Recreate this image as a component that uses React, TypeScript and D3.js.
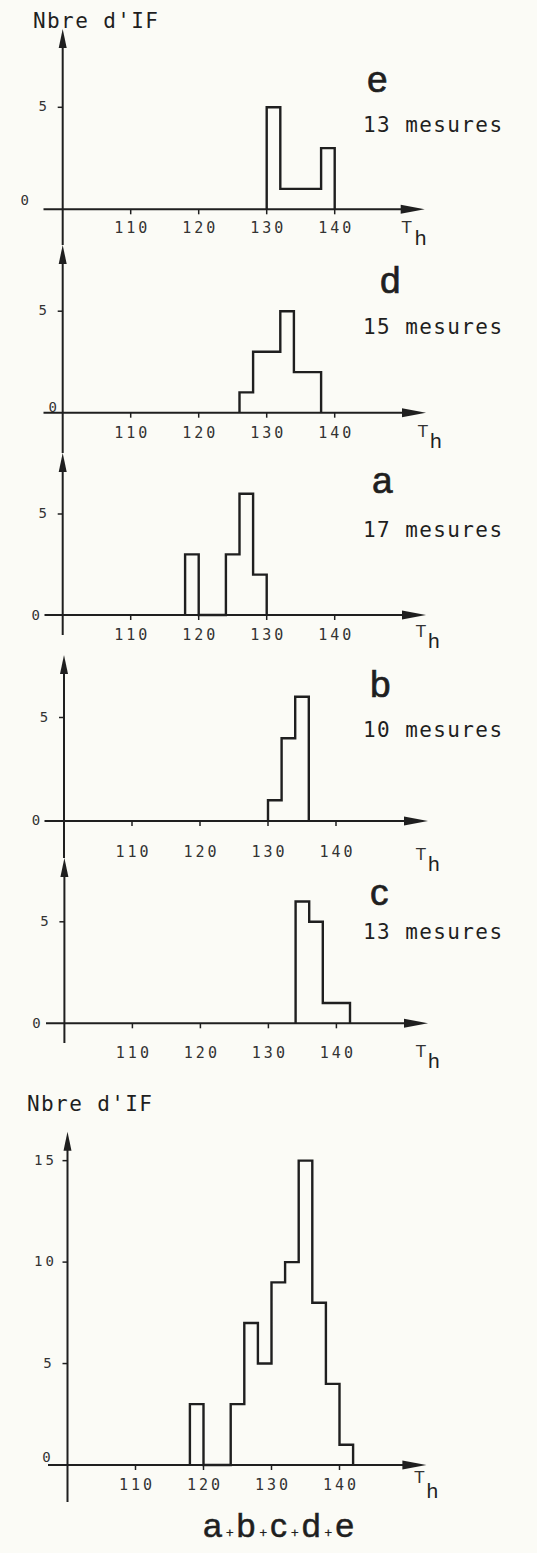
import React from 'react';
import * as d3 from 'd3';

// ---------- data ----------
const BIN_WIDTH = 2;
const xTickValues = [110, 120, 130, 140];

const eBinStarts = [130, 132, 134, 136, 138];
const eCounts = [5, 1, 1, 1, 3];

const dBinStarts = [126, 128, 130, 132, 134, 136];
const dCounts = [1, 3, 3, 5, 2, 2];

const aBinStarts = [118, 120, 122, 124, 126, 128];
const aCounts = [3, 0, 0, 3, 6, 2];

const bBinStarts = [130, 132, 134];
const bCounts = [1, 4, 6];

const cBinStarts = [134, 136, 138, 140];
const cCounts = [6, 5, 1, 1];

const totalBinStarts = [118, 120, 122, 124, 126, 128, 130, 132, 134, 136, 138, 140];
const totalCounts = [3, 0, 0, 3, 7, 5, 9, 10, 15, 8, 4, 1];

const panelLetters = ['e', 'd', 'a', 'b', 'c'];
const measureCounts = [13, 15, 17, 10, 13];
const panelYTicks = [5];
const totalYTicks = [5, 10, 15];
const yAxisTitle = "Nbre d'IF";
const xAxisTitleMain = 'T';
const xAxisTitleSub = 'h';
const sumLetters = ['a', 'b', 'c', 'd', 'e'];

// ---------- layout ----------
const INK = '#1f1f1f';
const MONO = '"DejaVu Sans Mono", "Liberation Mono", monospace';
const SANS = '"Liberation Sans", Arial, sans-serif';

type Layout = {
  ox: number; axisY: number; unit: number; arrowTop: number; axisBottom: number;
  left: number; tip: number; tickDy: number;
  zeroDx: number; zeroDy: number;
  tDx: number; tDy: number; hDx: number; hDy: number;
  letter?: { x: number; y: number }; measure?: { x: number; y: number };
  title?: { x: number; y: number };
};

const layouts: Layout[] = [
  { ox: 62.7, axisY: 209.3, unit: 20.4, arrowTop: 29, axisBottom: 245, left: 43.5, tip: 424.7, tickDy: 24,
    zeroDx: -38, zeroDy: -4, tDx: -23, tDy: 24, hDx: -10, hDy: 36,
    letter: { x: 367, y: 92 }, measure: { x: 363, y: 132 }, title: { x: 33, y: 28 } },
  { ox: 62.7, axisY: 412.7, unit: 20.3, arrowTop: 245, axisBottom: 453, left: 43.5, tip: 426, tickDy: 25,
    zeroDx: -10, zeroDy: -1, tDx: -8, tDy: 24, hDx: 4, hDy: 35,
    letter: { x: 380, y: 293 }, measure: { x: 363, y: 334 } },
  { ox: 62.7, axisY: 615, unit: 20.2, arrowTop: 453, axisBottom: 635, left: 44.5, tip: 426, tickDy: 25,
    zeroDx: -27, zeroDy: 5, tDx: -10, tDy: 22, hDx: 2, hDy: 33,
    letter: { x: 372, y: 493 }, measure: { x: 363, y: 537 } },
  { ox: 64, axisY: 821, unit: 20.7, arrowTop: 655, axisBottom: 858, left: 44.5, tip: 428, tickDy: 36,
    zeroDx: -28, zeroDy: 4, tDx: -12, tDy: 39, hDx: 0, hDy: 50,
    letter: { x: 370, y: 697 }, measure: { x: 363, y: 737 } },
  { ox: 64.4, axisY: 1023.3, unit: 20.3, arrowTop: 858, axisBottom: 1043, left: 46, tip: 428, tickDy: 35,
    zeroDx: -28, zeroDy: 5, tDx: -12, tDy: 34, hDx: 0, hDy: 45,
    letter: { x: 370, y: 905 }, measure: { x: 363, y: 939 } },
];

const totalLayout: Layout = {
  ox: 67.5, axisY: 1465, unit: 20.29, arrowTop: 1131.7, axisBottom: 1502, left: 48, tip: 426.4, tickDy: 25,
  zeroDx: -21, zeroDy: -3, tDx: -12, tDy: 18, hDx: 0, hDy: 33,
  title: { x: 27, y: 1111 },
};

const panelData: [number[], number[]][] = [
  [eBinStarts, eCounts],
  [dBinStarts, dCounts],
  [aBinStarts, aCounts],
  [bBinStarts, bCounts],
  [cBinStarts, cCounts],
];

function Panel({ L, starts, counts, yTicks, letter, measures }: {
  L: Layout; starts: number[]; counts: number[]; yTicks: number[]; letter?: string; measures?: number;
}) {
  const x = d3.scaleLinear().domain([100, 140]).range([L.ox, L.ox + 272]);
  const y = d3.scaleLinear().domain([0, 5]).range([L.axisY, L.axisY - 5 * L.unit]);

  const pts: [number, number][] = [[starts[0], 0]];
  starts.forEach((s, i) => {
    pts.push([s, counts[i]]);
    pts.push([s + BIN_WIDTH, counts[i]]);
  });
  pts.push([starts[starts.length - 1] + BIN_WIDTH, 0]);
  const line = d3.line<[number, number]>().x(d => x(d[0])).y(d => y(d[1]));

  const axX = L.ox;
  return (
    <g>
      {/* y axis */}
      <line x1={axX} x2={axX} y1={L.arrowTop + 10} y2={L.axisBottom} stroke={INK} strokeWidth={2} />
      <path d={`M${axX},${L.arrowTop} L${axX - 4},${L.arrowTop + 19} L${axX + 4},${L.arrowTop + 19} Z`} fill={INK} />
      {/* x axis */}
      <line x1={L.left} x2={L.tip - 12} y1={L.axisY} y2={L.axisY} stroke={INK} strokeWidth={2} />
      <path d={`M${L.tip},${L.axisY} L${L.tip - 24},${L.axisY - 4.5} L${L.tip - 24},${L.axisY + 4.5} Z`} fill={INK} />
      {/* x ticks */}
      {xTickValues.map(v => (
        <g key={v}>
          <line x1={x(v)} x2={x(v)} y1={L.axisY} y2={L.axisY + 5} stroke={INK} strokeWidth={1.5} />
          <text x={x(v) + 1.5} y={L.axisY + L.tickDy} textAnchor="middle" fontFamily={MONO} fontSize={15}
            letterSpacing={3} fill="#333">{v}</text>
        </g>
      ))}
      {/* y ticks */}
      {yTicks.map(v => (
        <g key={v}>
          <line x1={axX - 5} x2={axX} y1={y(v)} y2={y(v)} stroke={INK} strokeWidth={1.5} />
          <text x={axX - 20 + (v >= 10 ? -2 : 0)} y={y(v) + 4} textAnchor="middle" fontFamily={MONO} fontSize={14}
            letterSpacing={v >= 10 ? 3 : 0} fill="#333">{v}</text>
        </g>
      ))}
      <text x={axX + L.zeroDx} y={L.axisY + L.zeroDy} textAnchor="middle" fontFamily={MONO} fontSize={14} fill="#333">0</text>
      {/* histogram */}
      <path d={line(pts) || ''} fill="none" stroke={INK} strokeWidth={2.4} strokeLinejoin="miter" />
      {/* axis title */}
      <text x={L.tip + L.tDx} y={L.axisY + L.tDy} fontFamily='"DejaVu Sans", sans-serif' fontSize={16} fill="#333">{xAxisTitleMain}</text>
      <text x={L.tip + L.hDx} y={L.axisY + L.hDy} fontFamily={SANS} fontSize={21} fill={INK}>{xAxisTitleSub}</text>
      {L.title && (
        <text x={L.title.x} y={L.title.y} fontFamily={MONO} fontSize={21} letterSpacing={1.4} fill={INK}>{yAxisTitle}</text>
      )}
      {letter && L.letter && (
        <text x={L.letter.x} y={L.letter.y} fontFamily={SANS} fontSize={37} fill={INK} stroke={INK} strokeWidth={0.7}>{letter}</text>
      )}
      {measures !== undefined && L.measure && (
        <text x={L.measure.x} y={L.measure.y} fontFamily={MONO} fontSize={21} letterSpacing={1.4} fill={INK}>{`${measures} mesures`}</text>
      )}
    </g>
  );
}

export default function App() {
  return (
    <svg width={537} height={1553} viewBox="0 0 537 1553"
      style={{ position: 'absolute', left: 0, top: 0, display: 'block' }}>
      <rect x={0} y={0} width={537} height={1553} fill="#fbfbf6" />
      {layouts.map((L, i) => (
        <Panel key={i} L={L} starts={panelData[i][0]} counts={panelData[i][1]} yTicks={panelYTicks}
          letter={panelLetters[i]} measures={measureCounts[i]} />
      ))}
      <Panel L={totalLayout} starts={totalBinStarts} counts={totalCounts} yTicks={totalYTicks} />
      <text x={203} y={1537} fontFamily={SANS} fontSize={34} fill={INK} stroke={INK} strokeWidth={0.5}>
        {sumLetters.map((s, i) => (
          <React.Fragment key={i}>
            <tspan letterSpacing={4}>{s}</tspan>
            {i < sumLetters.length - 1 && <tspan fontSize={13} strokeWidth={0.3} dx={0} letterSpacing={3}>+</tspan>}
          </React.Fragment>
        ))}
      </text>
    </svg>
  );
}
